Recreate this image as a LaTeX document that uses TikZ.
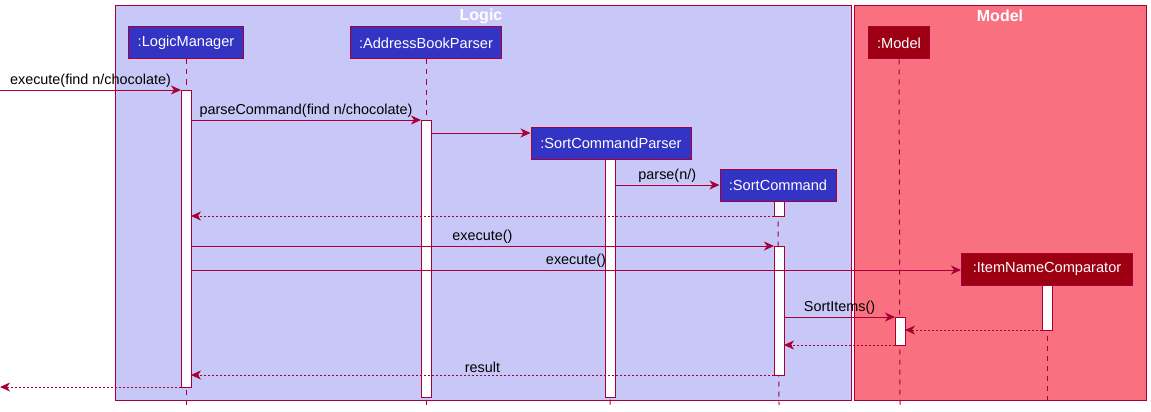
\documentclass[tikz,border=0pt]{standalone}
\usepackage{fontspec}
\setmainfont{Liberation Sans}
\usetikzlibrary{arrows.meta}
\definecolor{bord}{HTML}{A80036}
\definecolor{logicbg}{HTML}{C8C8F8}
\definecolor{modelbg}{HTML}{F97181}
\definecolor{partblue}{HTML}{3333C4}
\definecolor{partred}{HTML}{9D0012}
\begin{document}
\begin{tikzpicture}[x=1pt,y=-1pt,
  frame/.style={draw=bord, line width=1pt, inner sep=0pt, outer sep=0pt, anchor=north west},
  ftitle/.style={font=\bfseries\fontsize{16}{18}\selectfont, text=white},
  part/.style={draw=bord, line width=1pt, minimum height=32pt, inner sep=0pt, text=white, font=\fontsize{14.6}{16}\selectfont},
  actbar/.style={draw=bord, fill=white, line width=1pt, minimum width=10pt, inner sep=0pt, outer sep=0pt, anchor=north},
  lifeline/.style={draw=bord, line width=1pt, dash pattern=on 5pt off 5pt},
  msg/.style={draw=bord, line width=1pt, -{Stealth[length=10pt,width=9pt,inset=3pt]}},
  ret/.style={msg, dash pattern=on 2pt off 2pt},
  lbl/.style={font=\fontsize{14.4}{16}\selectfont, text=black, inner sep=2pt, above},
]
\useasboundingbox (0,0) rectangle (1151,412);
% frames
\node[frame, fill=logicbg, minimum width=736pt, minimum height=394pt] (logic) at (115,6) {};
\node[frame, fill=modelbg, minimum width=292pt, minimum height=394pt] (model) at (854,6) {};
\node[ftitle] (logictitle) at (481,16) {Logic};
\node[ftitle] (modeltitle) at (1000,16) {Model};
% participants (positions)
\node[part, fill=partblue, minimum width=115pt] (lm) at (186,43) {:LogicManager};
\node[part, fill=partblue, minimum width=151pt] (abp) at (426,43) {:AddressBookParser};
\node[part, fill=partblue, minimum width=160pt] (scp) at (611,143) {:SortCommandParser};
\node[part, fill=partblue, minimum width=116pt] (sc) at (778,185) {:SortCommand};
\node[part, fill=partred, minimum width=61pt] (mdl) at (899,43) {:Model};
\node[part, fill=partred, minimum width=171pt] (inc) at (1047,269) {:ItemNameComparator};
% lifelines
\coordinate (lmend) at (186,405);
\coordinate (abpend) at (426,405);
\coordinate (scpend) at (610,405);
\coordinate (scend) at (779,405);
\coordinate (mdlend) at (900,405);
\coordinate (incend) at (1047,405);
\draw[lifeline] (lm.south) -- (lmend);
\draw[lifeline] (abp.south) -- (abpend);
\draw[lifeline] (scp.south) -- (scpend);
\draw[lifeline] (sc.south) -- (scend);
\draw[lifeline] (mdl.south) -- (mdlend);
\draw[lifeline] (inc.south) -- (incend);
% activation bars
\node[actbar, minimum height=297pt] (lmbar) at (186,90) {};
\node[actbar, minimum height=277pt] (abpbar) at (426,120) {};
\node[actbar, minimum height=238pt] (scpbar) at (610,159) {};
\node[actbar, minimum height=15pt] (scbarA) at (779,201) {};
\node[actbar, minimum height=129pt] (scbarB) at (779,246) {};
\node[actbar, minimum height=28pt] (mdlbar) at (900,317) {};
\node[actbar, minimum height=45pt] (incbar) at (1047,285) {};
% messages
\coordinate (extin) at (0,90);
\coordinate (extout) at (0,387);
\draw[msg] (extin) -- (lmbar.west |- extin) node[lbl, midway] {execute(find n/chocolate)};
\draw[msg] (lmbar.east |- 0,120) -- (abpbar.west |- 0,120) node[lbl, midway] {parseCommand(find n/chocolate)};
\draw[msg] (abpbar.east |- 0,133) -- (scp.west |- 0,133);
\draw[msg] (scpbar.east |- 0,185) -- (sc.west) node[lbl, midway] {parse(n/)};
\draw[ret] (scbarA.west |- 0,216) -- (lmbar.east |- 0,216);
\draw[msg] (lmbar.east |- 0,246) -- (scbarB.west |- 0,246) node[lbl, midway] {execute()};
\draw[msg] (lmbar.east |- 0,270) -- (inc.west |- 0,270) node[lbl, midway] {execute()};
\draw[msg] (scbarB.east |- 0,317) -- (mdlbar.west |- 0,317) node[lbl, midway] {SortItems()};
\draw[ret] (incbar.west |- 0,330) -- (mdlbar.east |- 0,330);
\draw[ret] (mdlbar.west |- 0,345) -- (scbarB.east |- 0,345);
\draw[ret] (scbarB.west |- 0,375) -- (lmbar.east |- 0,375) node[lbl, midway] {result};
\draw[ret] (lmbar.west |- extout) -- (extout);
\end{tikzpicture}
\end{document}
